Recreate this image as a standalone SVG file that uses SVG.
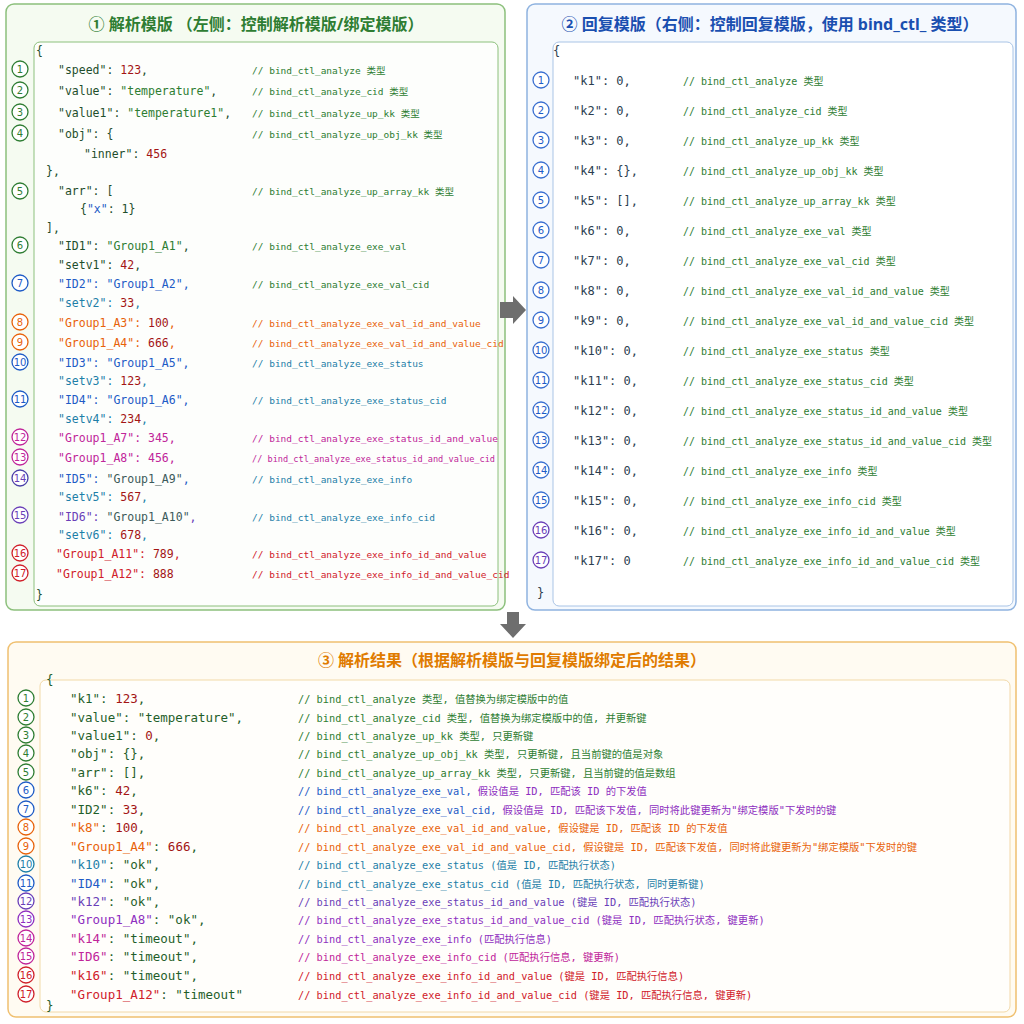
<svg xmlns="http://www.w3.org/2000/svg" width="1024" height="1024" viewBox="0 0 1024 1024">
<style>
text{font-family:"DejaVu Sans Mono","Liberation Mono","Noto Sans CJK SC",monospace;}
.t{font-family:"Noto Sans","Noto Sans CJK SC",sans-serif;font-weight:bold;font-size:16px;}
.k{font-size:11.5px;fill:#1f4e2c}
.c{font-size:10px}
.lc{font-size:9.5px}
.rk{font-size:12px;fill:#2c3e50}
.bk{font-size:12.5px;fill:#1f5e2a}
.bc{font-size:10.3px}
.n{fill:#a31515}
.s{fill:#2e7d32}
.g{fill:#2e7d32}.b{fill:#1e5bc6}.o{fill:#e8620a}.tl{fill:#1e7fa8}.m{fill:#c0259a}.p{fill:#6a3fb8}.r{fill:#d0202a}.pu{fill:#8e2fc0}
.cg circle{fill:#fff;stroke-width:1.3}
.cg text{font-family:"DejaVu Sans","Noto Sans",sans-serif;font-size:10px;text-anchor:middle}
</style>
<rect width="1024" height="1024" fill="#fff"/>
<g id="left">
<rect x="6" y="4" width="499" height="606" rx="8" fill="#f5fbf1" stroke="#8cc07c" stroke-width="1.5"/>
<text class="t" x="256" y="30" text-anchor="middle" fill="#2e7d32">① 解析模版 （左侧：控制解析模版/绑定模版）</text>
<rect x="34" y="42" width="464" height="564" rx="6" fill="#fdfefc" stroke="#8cc07c"/>
<text class="k" x="36" y="55">{</text>
<g class="cg">
<circle cx="20" cy="69" r="8" stroke="#2e7d32"/><text x="20" y="73" class="g">1</text>
<circle cx="20" cy="90" r="8" stroke="#2e7d32"/><text x="20" y="94" class="g">2</text>
<circle cx="20" cy="112" r="8" stroke="#2e7d32"/><text x="20" y="116" class="g">3</text>
<circle cx="20" cy="133" r="8" stroke="#2e7d32"/><text x="20" y="137" class="g">4</text>
<circle cx="20" cy="191" r="8" stroke="#2e7d32"/><text x="20" y="195" class="g">5</text>
<circle cx="20" cy="245" r="8" stroke="#2e7d32"/><text x="20" y="249" class="g">6</text>
<circle cx="20" cy="283" r="8" stroke="#1e5bc6"/><text x="20" y="287" class="b">7</text>
<circle cx="20" cy="322" r="8" stroke="#e8620a"/><text x="20" y="326" class="o">8</text>
<circle cx="20" cy="342" r="8" stroke="#e8620a"/><text x="20" y="346" class="o">9</text>
<circle cx="20" cy="362" r="8" stroke="#1e5bc6"/><text x="20" y="366" class="b" font-size="9">10</text>
<circle cx="20" cy="399" r="8" stroke="#1e5bc6"/><text x="20" y="403" class="b" font-size="9">11</text>
<circle cx="20" cy="437" r="8" stroke="#c0259a"/><text x="20" y="441" class="m" font-size="9">12</text>
<circle cx="20" cy="457" r="8" stroke="#c0259a"/><text x="20" y="461" class="m" font-size="9">13</text>
<circle cx="20" cy="478" r="8" stroke="#4a3fa8"/><text x="20" y="482" class="p" font-size="9">14</text>
<circle cx="20" cy="515" r="8" stroke="#6a3fb8"/><text x="20" y="519" class="p" font-size="9">15</text>
<circle cx="20" cy="553" r="8" stroke="#d0202a"/><text x="20" y="557" class="r" font-size="9">16</text>
<circle cx="20" cy="573" r="8" stroke="#d0202a"/><text x="20" y="577" class="r" font-size="9">17</text>
</g>
<text class="k" x="58" y="74">"speed": <tspan class="n">123</tspan>,</text><text class="lc g" x="252" y="74">// bind_ctl_analyze 类型</text>
<text class="k" x="58" y="95">"value": <tspan class="s">"temperature"</tspan>,</text><text class="lc g" x="252" y="95">// bind_ctl_analyze_cid 类型</text>
<text class="k" x="58" y="117">"value1": <tspan class="s">"temperature1"</tspan>,</text><text class="lc g" x="252" y="117">// bind_ctl_analyze_up_kk 类型</text>
<text class="k" x="58" y="138">"obj": {</text><text class="lc g" x="252" y="138">// bind_ctl_analyze_up_obj_kk 类型</text>
<text class="k" x="84" y="158">"inner": <tspan class="n">456</tspan></text>
<text class="k" x="46" y="175">},</text>
<text class="k" x="58" y="195">"arr": [</text><text class="lc g" x="252" y="195">// bind_ctl_analyze_up_array_kk 类型</text>
<text class="k" x="80" y="213">{<tspan class="b">"x"</tspan>: 1}</text>
<text class="k" x="46" y="232">],</text>
<text class="k" x="58" y="250">"ID1": <tspan class="s">"Group1_A1"</tspan>,</text><text class="lc g" x="252" y="250">// bind_ctl_analyze_exe_val</text>
<text class="k" x="58" y="269">"setv1": <tspan class="n">42</tspan>,</text>
<text class="k b" x="58" y="288">"ID2": <tspan>"Group1_A2"</tspan>,</text><text class="lc g" x="252" y="288">// bind_ctl_analyze_exe_val_cid</text>
<text class="k tl" x="58" y="307">"setv2": <tspan class="n">33</tspan>,</text>
<text class="k o" x="58" y="327">"Group1_A3": <tspan class="n">100</tspan>,</text><text class="lc o" x="252" y="327">// bind_ctl_analyze_exe_val_id_and_value</text>
<text class="k o" x="58" y="347">"Group1_A4": <tspan class="n">666</tspan>,</text><text class="lc o" x="252" y="347">// bind_ctl_analyze_exe_val_id_and_value_cid</text>
<text class="k b" x="58" y="367">"ID3": "Group1_A5",</text><text class="lc tl" x="252" y="367">// bind_ctl_analyze_exe_status</text>
<text class="k tl" x="58" y="385">"setv3": <tspan class="n">123</tspan>,</text>
<text class="k b" x="58" y="404">"ID4": "Group1_A6",</text><text class="lc tl" x="252" y="404">// bind_ctl_analyze_exe_status_cid</text>
<text class="k tl" x="58" y="423">"setv4": <tspan class="n">234</tspan>,</text>
<text class="k m" x="58" y="442">"Group1_A7": 345,</text><text class="lc m" x="252" y="442">// bind_ctl_analyze_exe_status_id_and_value</text>
<text class="k m" x="58" y="462">"Group1_A8": 456,</text><text class="lc m" x="252" y="462" textLength="243" lengthAdjust="spacingAndGlyphs">// bind_ctl_analyze_exe_status_id_and_value_cid</text>
<text class="k b" x="58" y="483">"ID5": <tspan fill="#3c5a5a">"Group1_A9"</tspan>,</text><text class="lc tl" x="252" y="483">// bind_ctl_analyze_exe_info</text>
<text class="k tl" x="58" y="501">"setv5": <tspan class="n">567</tspan>,</text>
<text class="k p" x="58" y="521">"ID6": <tspan fill="#3c5a5a">"Group1_A10"</tspan>,</text><text class="lc tl" x="252" y="521">// bind_ctl_analyze_exe_info_cid</text>
<text class="k tl" x="58" y="539">"setv6": <tspan class="n">678</tspan>,</text>
<text class="k r" x="56" y="558">"Group1_A11": <tspan class="n">789</tspan>,</text><text class="lc r" x="252" y="558">// bind_ctl_analyze_exe_info_id_and_value</text>
<text class="k r" x="56" y="578">"Group1_A12": <tspan class="n">888</tspan></text><text class="lc r" x="252" y="578">// bind_ctl_analyze_exe_info_id_and_value_cid</text>
<text class="k" x="36" y="599">}</text>
</g>
<g id="right">
<rect x="527" y="4" width="489" height="606" rx="8" fill="#f5f9fe" stroke="#8fb3e0" stroke-width="1.5"/>
<text class="t" x="770" y="30" text-anchor="middle" fill="#1a4fb0">② 回复模版（右侧：控制回复模版，使用 bind_ctl_ 类型）</text>
<rect x="553" y="42" width="460" height="564" rx="6" fill="#fff" stroke="#a9c4e6"/>
<text class="rk" x="553" y="55">{</text>
<g class="cg">
<circle cx="541" cy="80" r="8" stroke="#3a6fd0"/><text x="541" y="84" class="b">1</text>
<circle cx="541" cy="110" r="8" stroke="#3a6fd0"/><text x="541" y="114" class="b">2</text>
<circle cx="541" cy="140" r="8" stroke="#3a6fd0"/><text x="541" y="144" class="b">3</text>
<circle cx="541" cy="170" r="8" stroke="#3a6fd0"/><text x="541" y="174" class="b">4</text>
<circle cx="541" cy="200" r="8" stroke="#3a6fd0"/><text x="541" y="204" class="b">5</text>
<circle cx="541" cy="230" r="8" stroke="#3a6fd0"/><text x="541" y="234" class="b">6</text>
<circle cx="541" cy="260" r="8" stroke="#3a6fd0"/><text x="541" y="264" class="b">7</text>
<circle cx="541" cy="290" r="8" stroke="#3a6fd0"/><text x="541" y="294" class="b">8</text>
<circle cx="541" cy="320" r="8" stroke="#3a6fd0"/><text x="541" y="324" class="b">9</text>
<circle cx="541" cy="350" r="8" stroke="#3a6fd0"/><text x="541" y="354" class="b" font-size="9">10</text>
<circle cx="541" cy="380" r="8" stroke="#3a6fd0"/><text x="541" y="384" class="b" font-size="9">11</text>
<circle cx="541" cy="410" r="8" stroke="#3a6fd0"/><text x="541" y="414" class="b" font-size="9">12</text>
<circle cx="541" cy="440" r="8" stroke="#3a6fd0"/><text x="541" y="444" class="b" font-size="9">13</text>
<circle cx="541" cy="470" r="8" stroke="#3a6fd0"/><text x="541" y="474" class="b" font-size="9">14</text>
<circle cx="541" cy="500" r="8" stroke="#3a6fd0"/><text x="541" y="504" class="b" font-size="9">15</text>
<circle cx="541" cy="530" r="8" stroke="#6a3fb8"/><text x="541" y="534" class="p" font-size="9">16</text>
<circle cx="541" cy="560" r="8" stroke="#6a3fb8"/><text x="541" y="564" class="p" font-size="9">17</text>
</g>
<text class="rk" x="573" y="85">"k1": 0,</text><text class="c g" x="683" y="85">// bind_ctl_analyze 类型</text>
<text class="rk" x="573" y="115">"k2": 0,</text><text class="c g" x="683" y="115">// bind_ctl_analyze_cid 类型</text>
<text class="rk" x="573" y="145">"k3": 0,</text><text class="c g" x="683" y="145">// bind_ctl_analyze_up_kk 类型</text>
<text class="rk" x="573" y="175">"k4": {},</text><text class="c g" x="683" y="175">// bind_ctl_analyze_up_obj_kk 类型</text>
<text class="rk" x="573" y="205">"k5": [],</text><text class="c g" x="683" y="205">// bind_ctl_analyze_up_array_kk 类型</text>
<text class="rk" x="573" y="235">"k6": 0,</text><text class="c g" x="683" y="235">// bind_ctl_analyze_exe_val 类型</text>
<text class="rk" x="573" y="265">"k7": 0,</text><text class="c g" x="683" y="265">// bind_ctl_analyze_exe_val_cid 类型</text>
<text class="rk" x="573" y="295">"k8": 0,</text><text class="c g" x="683" y="295">// bind_ctl_analyze_exe_val_id_and_value 类型</text>
<text class="rk" x="573" y="325">"k9": 0,</text><text class="c g" x="683" y="325">// bind_ctl_analyze_exe_val_id_and_value_cid 类型</text>
<text class="rk" x="573" y="355">"k10": 0,</text><text class="c g" x="683" y="355">// bind_ctl_analyze_exe_status 类型</text>
<text class="rk" x="573" y="385">"k11": 0,</text><text class="c g" x="683" y="385">// bind_ctl_analyze_exe_status_cid 类型</text>
<text class="rk" x="573" y="415">"k12": 0,</text><text class="c g" x="683" y="415">// bind_ctl_analyze_exe_status_id_and_value 类型</text>
<text class="rk" x="573" y="445">"k13": 0,</text><text class="c g" x="683" y="445">// bind_ctl_analyze_exe_status_id_and_value_cid 类型</text>
<text class="rk" x="573" y="475">"k14": 0,</text><text class="c g" x="683" y="475">// bind_ctl_analyze_exe_info 类型</text>
<text class="rk" x="573" y="505">"k15": 0,</text><text class="c g" x="683" y="505">// bind_ctl_analyze_exe_info_cid 类型</text>
<text class="rk" x="573" y="535">"k16": 0,</text><text class="c g" x="683" y="535">// bind_ctl_analyze_exe_info_id_and_value 类型</text>
<text class="rk" x="573" y="565">"k17": 0</text><text class="c g" x="683" y="565">// bind_ctl_analyze_exe_info_id_and_value_cid 类型</text>
<text class="rk" x="537" y="597">}</text>
</g>
<g id="connectors" fill="#6e6e6e">
<polygon points="500,302 513,302 513,296 526,310 513,324 513,318 500,318"/>
<polygon points="507,612 519,612 519,624 526,624 513,638 500,624 507,624"/>
</g>
<g id="result">
<rect x="8" y="642" width="1008" height="375" rx="8" fill="#fffbf2" stroke="#f0c070" stroke-width="1.5"/>
<text class="t" x="512" y="666" text-anchor="middle" fill="#e07b00">③ 解析结果（根据解析模版与回复模版绑定后的结果）</text>
<rect x="40" y="680" width="970" height="332" rx="6" fill="#fffefb" stroke="#f2d9a8"/>
<text class="bk" x="46" y="684">{</text>
<g class="cg">
<circle cx="26" cy="698" r="8" stroke="#2e7d32"/><text x="26" y="702" class="g">1</text>
<circle cx="26" cy="717" r="8" stroke="#2e7d32"/><text x="26" y="721" class="g">2</text>
<circle cx="26" cy="735" r="8" stroke="#2e7d32"/><text x="26" y="739" class="g">3</text>
<circle cx="26" cy="753" r="8" stroke="#2e7d32"/><text x="26" y="757" class="g">4</text>
<circle cx="26" cy="772" r="8" stroke="#2e7d32"/><text x="26" y="776" class="g">5</text>
<circle cx="26" cy="790" r="8" stroke="#1e5bc6"/><text x="26" y="794" class="b">6</text>
<circle cx="26" cy="809" r="8" stroke="#1e5bc6"/><text x="26" y="813" class="b">7</text>
<circle cx="26" cy="827" r="8" stroke="#e8620a"/><text x="26" y="831" class="o">8</text>
<circle cx="26" cy="846" r="8" stroke="#e8620a"/><text x="26" y="850" class="o">9</text>
<circle cx="26" cy="864" r="8" stroke="#1e7fa8"/><text x="26" y="868" class="tl" font-size="9">10</text>
<circle cx="26" cy="883" r="8" stroke="#1e5bc6"/><text x="26" y="887" class="b" font-size="9">11</text>
<circle cx="26" cy="901" r="8" stroke="#6a3fb8"/><text x="26" y="905" class="p" font-size="9">12</text>
<circle cx="26" cy="919" r="8" stroke="#8e2fc0"/><text x="26" y="923" class="pu" font-size="9">13</text>
<circle cx="26" cy="938" r="8" stroke="#c0259a"/><text x="26" y="942" class="m" font-size="9">14</text>
<circle cx="26" cy="956" r="8" stroke="#c0259a"/><text x="26" y="960" class="m" font-size="9">15</text>
<circle cx="26" cy="975" r="8" stroke="#d0202a"/><text x="26" y="979" class="r" font-size="9">16</text>
<circle cx="26" cy="994" r="8" stroke="#d0202a"/><text x="26" y="998" class="r" font-size="9">17</text>
</g>
<text class="bk" x="70" y="703">"k1": <tspan class="n">123</tspan>,</text><text class="bc g" x="298" y="703">// bind_ctl_analyze 类型, 值替换为绑定模版中的值</text>
<text class="bk" x="70" y="722">"value": "temperature",</text><text class="bc g" x="298" y="722">// bind_ctl_analyze_cid 类型, 值替换为绑定模版中的值, 并更新键</text>
<text class="bk" x="70" y="740">"value1": <tspan class="n">0</tspan>,</text><text class="bc g" x="298" y="740">// bind_ctl_analyze_up_kk 类型, 只更新键</text>
<text class="bk" x="70" y="758">"obj": {},</text><text class="bc g" x="298" y="758">// bind_ctl_analyze_up_obj_kk 类型, 只更新键, 且当前键的值是对象</text>
<text class="bk" x="70" y="777">"arr": [],</text><text class="bc g" x="298" y="777">// bind_ctl_analyze_up_array_kk 类型, 只更新键, 且当前键的值是数组</text>
<text class="bk" x="70" y="795">"k6": <tspan class="n">42</tspan>,</text><text class="bc b" x="298" y="795">// bind_ctl_analyze_exe_val, <tspan class="pu">假设值是 ID, 匹配该 ID 的下发值</tspan></text>
<text class="bk" x="70" y="814">"ID2": <tspan class="n">33</tspan>,</text><text class="bc b" x="298" y="814">// bind_ctl_analyze_exe_val_cid, <tspan class="pu">假设值是 ID, 匹配该下发值, 同时将此键更新为"绑定模版"下发时的键</tspan></text>
<text class="bk" x="70" y="832"><tspan class="o">"k8"</tspan>: <tspan class="n">100</tspan>,</text><text class="bc o" x="298" y="832">// bind_ctl_analyze_exe_val_id_and_value, 假设键是 ID, 匹配该 ID 的下发值</text>
<text class="bk" x="70" y="851"><tspan class="o">"Group1_A4"</tspan>: <tspan class="n">666</tspan>,</text><text class="bc o" x="298" y="851">// bind_ctl_analyze_exe_val_id_and_value_cid, 假设键是 ID, 匹配该下发值, 同时将此键更新为"绑定模版"下发时的键</text>
<text class="bk" x="70" y="869"><tspan class="tl">"k10"</tspan>: "ok",</text><text class="bc tl" x="298" y="869">// bind_ctl_analyze_exe_status (值是 ID, 匹配执行状态)</text>
<text class="bk" x="70" y="888"><tspan class="b">"ID4"</tspan>: "ok",</text><text class="bc tl" x="298" y="888">// bind_ctl_analyze_exe_status_cid (值是 ID, 匹配执行状态, 同时更新键)</text>
<text class="bk" x="70" y="906"><tspan class="p">"k12"</tspan>: "ok",</text><text class="bc p" x="298" y="906">// bind_ctl_analyze_exe_status_id_and_value (键是 ID, 匹配执行状态)</text>
<text class="bk" x="70" y="924"><tspan class="pu">"Group1_A8"</tspan>: "ok",</text><text class="bc pu" x="298" y="924">// bind_ctl_analyze_exe_status_id_and_value_cid (键是 ID, 匹配执行状态, 键更新)</text>
<text class="bk" x="70" y="943"><tspan class="m">"k14"</tspan>: "timeout",</text><text class="bc pu" x="298" y="943">// bind_ctl_analyze_exe_info (匹配执行信息)</text>
<text class="bk" x="70" y="961"><tspan class="m">"ID6"</tspan>: "timeout",</text><text class="bc m" x="298" y="961">// bind_ctl_analyze_exe_info_cid (匹配执行信息, 键更新)</text>
<text class="bk" x="70" y="980"><tspan class="r">"k16"</tspan>: "timeout",</text><text class="bc r" x="298" y="980">// bind_ctl_analyze_exe_info_id_and_value (键是 ID, 匹配执行信息)</text>
<text class="bk" x="70" y="999"><tspan class="r">"Group1_A12"</tspan>: "timeout"</text><text class="bc r" x="298" y="999">// bind_ctl_analyze_exe_info_id_and_value_cid (键是 ID, 匹配执行信息, 键更新)</text>
<text class="bk" x="46" y="1010">}</text>
</g>
</svg>
